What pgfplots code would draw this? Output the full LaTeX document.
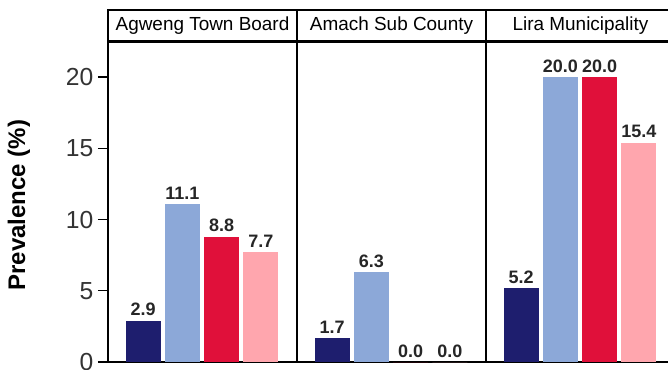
\documentclass[border=0pt]{standalone}
\usepackage{fontspec}
\setmainfont{Liberation Sans}
\usepackage{pgfplots}
\pgfplotsset{compat=1.18}
\definecolor{cNavy}{HTML}{1E1E6E}
\definecolor{cLBlue}{HTML}{8CA8D8}
\definecolor{cRed}{HTML}{E0103A}
\definecolor{cPink}{HTML}{FFA6AE}
\pgfplotsset{
  panel/.style={
    scale only axis, width=141.75pt, height=240pt,
    anchor=south west,
    xmin=0.109, xmax=4.918, ymin=0, ymax=22.46,
    xtick=\empty, ytick=\empty,
    axis line style={line width=1.5pt},
    ybar, bar width=0.89, bar shift=0pt,
    every axis plot/.append style={draw=none},
    nodes near coords,
    nodes near coords style={font=\bfseries\fontsize{13.5}{15}\selectfont, text=black!85,
      /pgf/number format/.cd, fixed, fixed zerofill, precision=1, assume math mode=true},
    /pgf/number format/assume math mode=true,
    every axis title shift=0pt,
    title style={at={(0.5,1)}, anchor=south, draw, line width=1.5pt,
      minimum width=141.75pt, minimum height=23.25pt, inner sep=0pt,
      font=\fontsize{14.2}{16}\selectfont, fill=white},
  },
}
\begin{document}
\begin{tikzpicture}
\path[use as bounding box] (0,0) rectangle (501pt,276.75pt);
% Panel 1
\begin{axis}[panel, at={(81pt,5.25pt)}, title={Agweng Town Board},
  ytick={0,5,10,15,20}, tick align=outside, ytick pos=left,
  major tick length=7.5pt, major tick style={line width=1pt, black},
  yticklabel style={font=\fontsize{18.5}{20}\selectfont, text=black!80,
    /pgf/number format/.cd, fixed, precision=0, assume math mode=true},
  ylabel={Prevalence (\%)},
  ylabel style={font=\bfseries\fontsize{18}{20}\selectfont, anchor=center, at={(axis description cs:-0.471,0.49)}},
]
\addplot[fill=cNavy] coordinates {(1,2.9)};
\addplot[fill=cLBlue] coordinates {(2,11.1)};
\addplot[fill=cRed] coordinates {(3,8.8)};
\addplot[fill=cPink] coordinates {(4,7.7)};
\end{axis}
% Panel 2
\begin{axis}[panel, at={(222.75pt,5.25pt)}, title={Amach Sub County}]
\addplot[fill=cNavy] coordinates {(1,1.7)};
\addplot[fill=cLBlue] coordinates {(2,6.3)};
\addplot[fill=cRed] coordinates {(3,0.0)};
\addplot[fill=cPink] coordinates {(4,0.0)};
\end{axis}
% Panel 3
\begin{axis}[panel, at={(364.5pt,5.25pt)}, title={Lira Municipality}]
\addplot[fill=cNavy] coordinates {(1,5.2)};
\addplot[fill=cLBlue] coordinates {(2,20.0)};
\addplot[fill=cRed] coordinates {(3,20.0)};
\addplot[fill=cPink] coordinates {(4,15.4)};
\end{axis}
\end{tikzpicture}
\end{document}
